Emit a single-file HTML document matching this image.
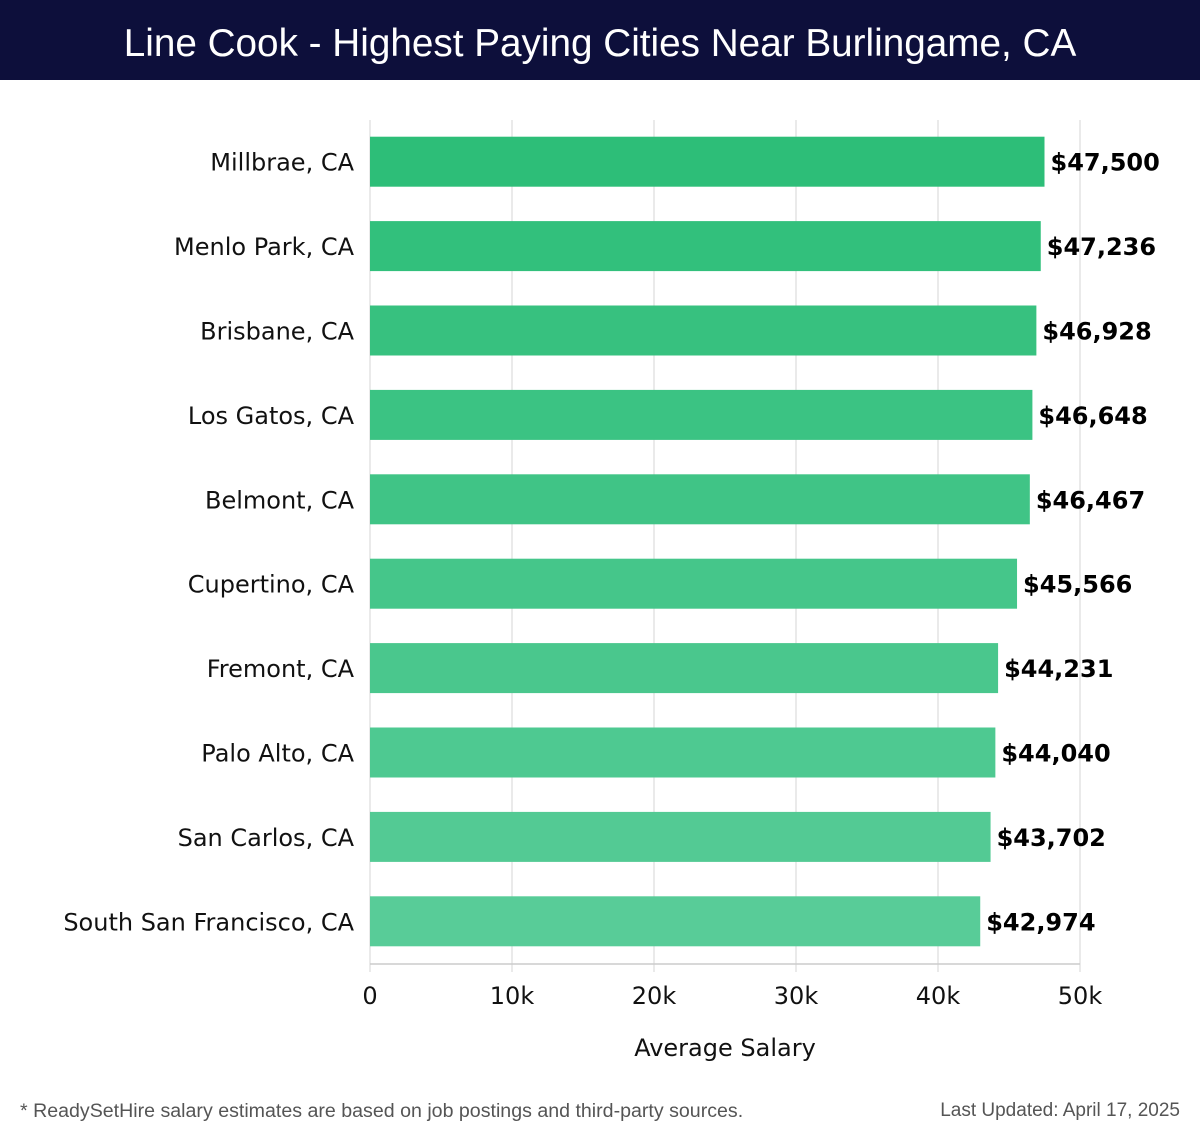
<!DOCTYPE html>
<html><head><meta charset="utf-8"><style>
body{margin:0;width:1200px;height:1140px;background:#fff;font-family:"DejaVu Sans","Liberation Sans",sans-serif;overflow:hidden}
#title{position:absolute;left:0;top:0;width:1200px;height:80px;background:#0d0f3b;color:#fff;font-family:"Liberation Sans",sans-serif;font-size:38.7px;line-height:88px;text-align:center}
.foot{position:absolute;top:1100px;font-family:"Liberation Sans",sans-serif;font-size:19.6px;color:#555}
</style></head><body>
<div id="title">Line Cook - Highest Paying Cities Near Burlingame, CA</div>
<svg id="chart" width="1200" height="1140" style="position:absolute;left:0;top:0"></svg>
<div class="foot" style="left:20px">* ReadySetHire salary estimates are based on job postings and third-party sources.</div>
<div class="foot" style="right:20px;font-size:19px">Last Updated: April 17, 2025</div>
<script>
const cities=["Millbrae, CA","Menlo Park, CA","Brisbane, CA","Los Gatos, CA","Belmont, CA","Cupertino, CA","Fremont, CA","Palo Alto, CA","San Carlos, CA","South San Francisco, CA"];
const salaries=[47500,47236,46928,46648,46467,45566,44231,44040,43702,42974];
const ticks=[0,10000,20000,30000,40000,50000];
const tickLabels=["0","10k","20k","30k","40k","50k"];
const svg=document.getElementById('chart');const NS="http://www.w3.org/2000/svg";
const x0=370,x1=1080,yTop=120,yBot=964,maxV=50000;
const xs=v=>x0+(x1-x0)*v/maxV;
const band=(yBot-yTop)/cities.length;
function mk(t,a,txt){const e=document.createElementNS(NS,t);for(const k in a)e.setAttribute(k,a[k]);if(txt!==undefined)e.textContent=txt;svg.appendChild(e);return e;}
ticks.forEach((t,i)=>{
 const g=mk('line',{x1:xs(t),x2:xs(t),y1:yTop,y2:yBot+8,stroke:'#e3e3e3','stroke-width':1.5});
 
 
 const l=mk('text',{x:xs(t),y:1004,'text-anchor':'middle','font-size':24,fill:'#111'},tickLabels[i]);
 
 
});
const ax=mk('line',{x1:x0,x2:x1,y1:yBot,y2:yBot,stroke:'#ccc','stroke-width':1.5});


const t=mk('text',{x:725,y:1056,'text-anchor':'middle','font-size':24,fill:'#111'},'Average Salary');


cities.forEach((c,i)=>{
 const cy=yTop+band*(i+0.5)-0.5;
 const f=i/(cities.length-1);
 const col=`rgb(${Math.round(45+43*f)},${Math.round(190+14*f)},${Math.round(120+32*f)})`;
 const r=mk('rect',{x:x0,y:cy-25,width:xs(salaries[i])-x0,height:50,fill:col});
 
 
 const lb=mk('text',{x:354,y:cy+9,'text-anchor':'end','font-size':24,fill:'#111'},c);
 
 
 const v=mk('text',{x:xs(salaries[i])+6,y:cy+9,'font-size':24,'font-weight':'bold',fill:'#000'},'$'+salaries[i].toLocaleString('en-US'));
 
 
});
</script>
</body></html>
